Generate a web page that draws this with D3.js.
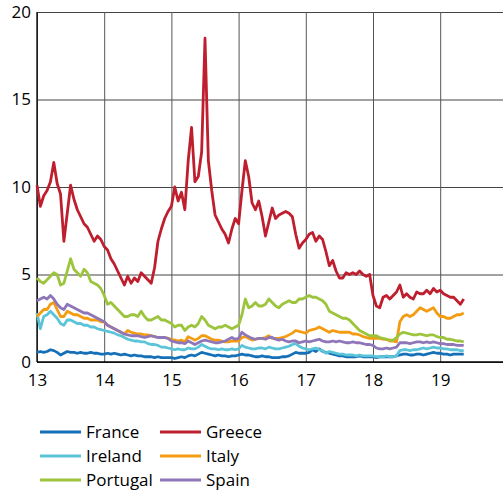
<!DOCTYPE html>
<html>
<head>
<meta charset="utf-8">
<script src="https://cdn.jsdelivr.net/npm/d3@7"></script>
<style>
  body { margin: 0; background: #fff; }
  svg { font-family: "Open Sans", sans-serif; }
</style>
</head>
<body>
<svg id="chart"></svg>
<script>
// samples every 0.05 year, from 13.00 to 19.35
const years = d3.range(128).map(i => 13 + i * 0.05);

const france = [
  0.55, 0.6, 0.55, 0.6, 0.7, 0.65, 0.55, 0.4, 0.5, 0.6, 0.55, 0.55, 0.5, 0.55, 0.5, 0.5, 0.55, 0.5, 0.5, 0.45,
  0.45, 0.5, 0.45, 0.5, 0.45, 0.4, 0.45, 0.4, 0.35, 0.4, 0.35, 0.35, 0.3, 0.3, 0.3, 0.25, 0.3, 0.25, 0.25, 0.25,
  0.25, 0.2, 0.25, 0.3, 0.25, 0.35, 0.4, 0.35, 0.45, 0.55, 0.5, 0.45, 0.4, 0.35, 0.4, 0.35, 0.35, 0.3, 0.35, 0.35,
  0.4, 0.45, 0.4, 0.4, 0.35, 0.3, 0.3, 0.35, 0.3, 0.3, 0.25, 0.25, 0.25, 0.3, 0.3, 0.35, 0.45, 0.55, 0.5, 0.5,
  0.5, 0.55, 0.7, 0.6, 0.75, 0.6, 0.55, 0.5, 0.45, 0.4, 0.35, 0.35, 0.3, 0.3, 0.3, 0.3, 0.35, 0.3, 0.3, 0.3,
  0.3, 0.25, 0.3, 0.3, 0.3, 0.3, 0.3, 0.35, 0.4, 0.45, 0.45, 0.4, 0.4, 0.45, 0.45, 0.4, 0.45, 0.5, 0.55, 0.5,
  0.5, 0.45, 0.45, 0.4, 0.45, 0.45, 0.45, 0.45
];
const greece = [
  10.1, 8.9, 9.5, 9.8, 10.3, 11.4, 10.2, 9.6, 6.9, 8.5, 10.1, 9.3, 8.7, 8.3, 7.9, 7.7, 7.3, 6.9, 7.2, 7.0,
  6.6, 6.4, 5.9, 5.6, 5.2, 4.8, 4.4, 4.9, 4.5, 4.8, 4.6, 5.1, 4.9, 4.7, 4.5, 5.4, 6.9, 7.6, 8.2, 8.6,
  8.9, 10.0, 9.2, 9.7, 8.7, 11.5, 13.4, 10.3, 10.6, 12.0, 18.5, 11.5, 9.8, 8.4, 8.0, 7.6, 7.3, 6.8, 7.6, 8.2,
  7.9, 9.8, 11.5, 10.6, 9.1, 8.7, 9.2, 8.3, 7.2, 8.0, 8.8, 8.2, 8.4, 8.5, 8.6, 8.5, 8.3, 7.3, 6.5, 6.8,
  7.0, 7.3, 7.4, 6.9, 7.2, 7.0, 6.3, 5.5, 5.8, 5.2, 4.8, 4.8, 5.1, 5.0, 5.1, 5.0, 5.2, 5.0, 4.9, 5.0,
  3.8, 3.2, 3.1, 3.7, 3.8, 3.6, 3.8, 4.0, 4.4, 3.7, 3.9, 3.7, 3.6, 4.0, 3.9, 3.9, 4.1, 3.9, 4.2, 4.0,
  4.1, 3.9, 3.8, 3.7, 3.7, 3.5, 3.3, 3.6
];
const ireland = [
  2.8, 1.9, 2.6, 2.7, 2.9, 2.7, 2.5, 2.2, 2.1, 2.4, 2.4, 2.3, 2.2, 2.2, 2.1, 2.1, 2.0, 2.0, 1.9, 1.85,
  1.8, 1.75, 1.7, 1.65, 1.55, 1.5, 1.4, 1.3, 1.25, 1.2, 1.2, 1.15, 1.15, 1.05, 1.0, 1.0, 0.95, 0.85, 0.85, 0.8,
  0.75, 0.7, 0.75, 0.7, 0.7, 0.8, 0.75, 0.75, 0.85, 1.0, 0.9, 0.8, 0.75, 0.75, 0.7, 0.75, 0.7, 0.7, 0.75, 0.7,
  0.75, 0.95, 0.85, 0.8, 0.75, 0.75, 0.8, 0.8, 0.75, 0.85, 0.8, 0.75, 0.75, 0.8, 0.85, 0.9, 1.0, 1.05, 0.9, 0.8,
  0.75, 0.7, 0.75, 0.8, 0.7, 0.65, 0.5, 0.6, 0.55, 0.5, 0.45, 0.45, 0.4, 0.4, 0.4, 0.35, 0.4, 0.35, 0.35, 0.35,
  0.35, 0.3, 0.3, 0.3, 0.35, 0.3, 0.3, 0.35, 0.65, 0.7, 0.7, 0.65, 0.7, 0.7, 0.75, 0.8, 0.75, 0.8, 0.85, 0.8,
  0.8, 0.75, 0.75, 0.7, 0.7, 0.7, 0.65, 0.65
];
const italy = [
  2.6, 2.8, 3.0, 3.0, 3.3, 3.4, 3.0, 2.6, 2.6, 2.9, 2.8, 2.7, 2.7, 2.6, 2.5, 2.5, 2.4, 2.4, 2.4, 2.3,
  2.3, 2.1, 2.0, 1.9, 1.8, 1.7, 1.6, 1.8, 1.7, 1.65, 1.6, 1.6, 1.55, 1.55, 1.5, 1.45, 1.4, 1.4, 1.4, 1.35,
  1.3, 1.25, 1.2, 1.25, 1.15, 1.45, 1.35, 1.25, 1.35, 1.5, 1.5, 1.4, 1.3, 1.25, 1.25, 1.2, 1.15, 1.15, 1.2, 1.2,
  1.2, 1.4, 1.45, 1.35, 1.25, 1.3, 1.35, 1.35, 1.4, 1.5, 1.35, 1.35, 1.35, 1.4, 1.45, 1.55, 1.65, 1.8, 1.75, 1.7,
  1.65, 1.8, 1.85, 1.9, 2.0, 1.9, 1.8, 1.7, 1.8, 1.75, 1.7, 1.7, 1.7, 1.7, 1.6, 1.6, 1.55, 1.45, 1.4, 1.35,
  1.35, 1.35, 1.35, 1.3, 1.3, 1.2, 1.2, 1.15, 2.3, 2.6, 2.7, 2.6, 2.7, 2.9, 3.1, 3.0, 2.9, 3.0, 3.1, 2.8,
  2.6, 2.6, 2.5, 2.5, 2.6, 2.7, 2.7, 2.8
];
const portugal = [
  4.8, 4.6, 4.5, 4.7, 4.9, 5.1, 5.0, 4.4, 4.5, 5.2, 5.9, 5.3, 5.1, 4.9, 5.3, 5.1, 4.6, 4.5, 4.4, 4.2,
  3.8, 3.3, 3.4, 3.2, 3.0, 2.8, 2.6, 2.6, 2.7, 2.7, 2.6, 2.9, 2.6, 2.4, 2.4, 2.5, 2.6, 2.4, 2.4, 2.3,
  2.2, 2.0, 2.1, 2.1, 1.8, 2.0, 2.1, 2.0, 2.2, 2.6, 2.4, 2.1, 2.0, 1.9, 2.0, 2.0, 2.1, 2.0, 1.9, 2.0,
  2.1, 2.7, 3.6, 3.1, 3.2, 3.4, 3.2, 3.2, 3.3, 3.6, 3.4, 3.2, 3.1, 3.3, 3.4, 3.5, 3.4, 3.4, 3.6, 3.6,
  3.7, 3.8, 3.7, 3.7, 3.6, 3.5, 3.3, 2.9, 2.8, 2.7, 2.6, 2.5, 2.5, 2.4, 2.2, 2.0, 1.8, 1.7, 1.6, 1.5,
  1.5, 1.5, 1.4, 1.35, 1.3, 1.25, 1.25, 1.4, 1.6, 1.7, 1.65, 1.6, 1.55, 1.55, 1.6, 1.55, 1.5, 1.55, 1.55, 1.45,
  1.4, 1.4, 1.3, 1.3, 1.25, 1.2, 1.2, 1.15
];
const spain = [
  3.5, 3.6, 3.7, 3.6, 3.8, 3.6, 3.3, 3.1, 3.0, 3.3, 3.2, 3.1, 3.0, 2.9, 2.8, 2.8, 2.7, 2.6, 2.5, 2.4,
  2.3, 2.1, 2.0, 1.9, 1.8, 1.7, 1.6, 1.55, 1.5, 1.5, 1.5, 1.45, 1.4, 1.45, 1.5, 1.45, 1.4, 1.4, 1.4, 1.35,
  1.2, 1.15, 1.1, 1.1, 1.05, 1.2, 1.1, 1.0, 1.1, 1.2, 1.25, 1.2, 1.15, 1.1, 1.1, 1.15, 1.2, 1.3, 1.4, 1.3,
  1.35, 1.7, 1.55, 1.45, 1.35, 1.3, 1.35, 1.35, 1.3, 1.4, 1.4, 1.3, 1.25, 1.3, 1.2, 1.15, 1.2, 1.2, 1.1, 1.15,
  1.2, 1.15, 1.2, 1.25, 1.3, 1.2, 1.15, 1.15, 1.2, 1.15, 1.2, 1.15, 1.1, 1.1, 1.15, 1.1, 1.1, 1.05, 1.0, 1.0,
  0.95, 0.8, 0.75, 0.75, 0.8, 0.75, 0.8, 0.85, 1.1, 1.1, 1.1, 1.05, 1.1, 1.15, 1.15, 1.1, 1.15, 1.1, 1.15, 1.1,
  1.05, 1.05, 1.0, 1.0, 1.0, 0.95, 0.95, 0.95
];

const xTicks = [13, 14, 15, 16, 17, 18, 19];
const yTicks = [0, 5, 10, 15, 20];

const series = [
  { name: "France", values: france, color: "#1570b8" },
  { name: "Greece", values: greece, color: "#be1e2d" },
  { name: "Ireland", values: ireland, color: "#5cc4d8" },
  { name: "Italy", values: italy, color: "#f39c12" },
  { name: "Portugal", values: portugal, color: "#9cc43c" },
  { name: "Spain", values: spain, color: "#8e76b8" }
];

const width = 503, height = 493;
const svg = d3.select("#chart").attr("width", width).attr("height", height);

// plot area
const x = d3.scaleLinear().domain([13, 20]).range([37, 507.4]);
const y = d3.scaleLinear().domain([0, 20]).range([362, 12]);

// horizontal grid + y labels
svg.append("g")
    .attr("transform", "translate(37,0)")
    .call(d3.axisLeft(y).tickValues(yTicks).tickSize(-(x(20) - 37)).tickFormat(d3.format("d")))
    .call(g => g.select(".domain").remove())
    .call(g => g.selectAll(".tick line").attr("stroke", "#444").attr("stroke-width", 1))
    .call(g => g.selectAll(".tick text").attr("x", -6).attr("fill", "#000")
        .style("font-size", "17px").style("font-family", "'Open Sans', sans-serif"));

// vertical grid + x labels
svg.append("g")
    .attr("transform", "translate(0,362)")
    .call(d3.axisBottom(x).tickValues(xTicks).tickSize(-350).tickFormat(d3.format("d")))
    .call(g => g.select(".domain").remove())
    .call(g => g.selectAll(".tick line").attr("stroke", "#555").attr("stroke-width", 1))
    .call(g => g.selectAll(".tick text").attr("y", 12).attr("fill", "#000")
        .style("font-size", "17px").style("font-family", "'Open Sans', sans-serif"));

// axis lines
svg.append("line").attr("x1", 37).attr("x2", 37).attr("y1", y(20)).attr("y2", y(0))
    .attr("stroke", "#000").attr("stroke-width", 1.3);
svg.append("line").attr("x1", 37).attr("x2", width).attr("y1", y(0)).attr("y2", y(0))
    .attr("stroke", "#000").attr("stroke-width", 1.3);

// lines (thick, the source series are noisy daily data)
const line = d3.line()
    .x((d, i) => x(years[i]))
    .y(d => y(d));

svg.append("g")
    .selectAll("path")
    .data(series)
    .enter()
    .append("path")
    .attr("d", d => line(d.values))
    .attr("fill", "none")
    .attr("stroke", d => d.color)
    .attr("stroke-width", 2.8)
    .attr("stroke-linejoin", "round");

// legend: 2 columns, 3 rows
const legend = svg.append("g")
    .selectAll("g")
    .data(series)
    .enter()
    .append("g")
    .attr("transform", (d, i) => "translate(" + (i % 2 === 0 ? 40 : 160) + "," + (432 + Math.floor(i / 2) * 24) + ")");

legend.append("line")
    .attr("x1", 0).attr("x2", 41)
    .attr("stroke", d => d.color)
    .attr("stroke-width", 3);

legend.append("text")
    .attr("x", 46)
    .attr("dy", "0.35em")
    .style("font-size", "17px")
    .text(d => d.name);
</script>
</body>
</html>
